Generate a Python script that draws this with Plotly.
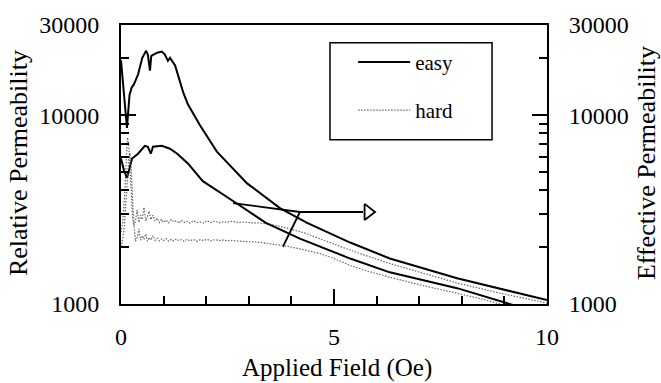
import plotly.graph_objects as go

# ---------------- data ----------------
# easy axis, upper curve (Relative Permeability)
easy_rel_x = [0, 0.07, 0.14, 0.2, 0.25, 0.3, 0.4, 0.5, 0.59, 0.63, 0.68, 0.71, 0.85, 0.96,
              1.03, 1.1, 1.15, 1.27, 1.46, 1.57, 1.85, 2.25, 2.96, 3.73, 4.37, 5.38, 6.31,
              7.89, 9.44, 10]
easy_rel_y = [19500, 12500, 8550, 12800, 14000, 14500, 16400, 20100, 21900, 20900, 17200,
              20600, 21400, 21700, 20900, 19400, 20100, 18300, 13200, 11400, 8870, 6410,
              4350, 3220, 2690, 2115, 1742, 1368, 1128, 1049]

# easy axis, lower curve (Effective Permeability)
easy_eff_x = [0, 0.07, 0.14, 0.2, 0.26, 0.4, 0.56, 0.63, 0.7, 0.75, 0.96, 1.15, 1.32, 1.57,
              1.92, 2.63, 3.4, 4.2, 5.38, 6.31, 7.89, 9.2, 10]
easy_eff_y = [5900, 5100, 4650, 5300, 5890, 6250, 6880, 6800, 6250, 6800, 6880, 6640, 6250,
              5550, 4470, 3510, 2690, 2220, 1740, 1471, 1213, 988, 900]

# hard axis, upper curve (Relative Permeability)
hard_rel_x = [0, 0.04, 0.08, 0.12, 0.15, 0.18, 0.21, 0.24, 0.27, 0.30, 0.34, 0.38, 0.42, 0.46,
              0.50, 0.54, 0.58, 0.62, 0.66, 0.70, 0.75, 0.80, 0.85, 0.90, 0.95, 1.00, 1.06,
              1.12, 1.18, 1.24, 1.30, 1.36, 1.42, 1.48, 1.55, 1.62, 1.70, 1.78, 1.86, 1.94,
              2.02, 2.10, 2.20, 2.30, 2.40, 2.50, 2.60, 2.75, 2.90, 3.05, 3.20, 3.50, 3.90,
              4.30, 4.80, 5.40, 6.30, 7.10, 7.90, 8.90, 10]
hard_rel_y = [2400, 2700, 3600, 5200, 7600, 7200, 5000, 3600, 2900, 2600, 2750, 3150, 2700,
              2950, 2800, 3250, 2750, 2900, 3100, 2800, 2950, 2750, 2850, 2700, 2800, 2700,
              2780, 2690, 2800, 2720, 2760, 2680, 2770, 2700, 2740, 2680, 2760, 2700, 2720,
              2680, 2760, 2700, 2740, 2690, 2730, 2710, 2740, 2700, 2720, 2690, 2690, 2640,
              2520, 2380, 2150, 1920, 1640, 1450, 1290, 1140, 1012]

# hard axis, lower curve (Effective Permeability)
hard_eff_x = [0, 0.04, 0.08, 0.12, 0.15, 0.18, 0.21, 0.24, 0.27, 0.30, 0.34, 0.38, 0.42, 0.46,
              0.50, 0.54, 0.58, 0.62, 0.66, 0.70, 0.75, 0.80, 0.85, 0.90, 0.95, 1.00, 1.06,
              1.12, 1.18, 1.24, 1.30, 1.36, 1.42, 1.48, 1.55, 1.62, 1.70, 1.78, 1.86, 1.94,
              2.02, 2.10, 2.20, 2.30, 2.40, 2.50, 2.60, 2.75, 2.90, 3.20, 3.50, 3.80, 4.20,
              4.67, 5.00, 5.38, 5.80, 6.31, 7.10, 7.89, 8.50, 8.97, 10]
hard_eff_y = [2000, 2200, 2600, 3400, 4500, 5800, 6300, 5200, 3800, 2700, 2150, 2250, 2500,
              2180, 2300, 2200, 2350, 2150, 2250, 2180, 2300, 2170, 2230, 2160, 2210, 2170,
              2220, 2150, 2200, 2160, 2210, 2170, 2190, 2150, 2200, 2160, 2200, 2150, 2190,
              2170, 2200, 2160, 2190, 2170, 2180, 2160, 2170, 2150, 2140, 2130, 2090, 2040,
              1960, 1850, 1740, 1600, 1490, 1385, 1250, 1142, 1060, 988, 880]

# arrow / bracket marking the curves that belong to the right axis
arrow_x = [2.63, 4.2, 5.68]
arrow_y = [3420, 3070, 3070]
bracket_x = [3.8, 4.2]
bracket_y = [2010, 3070]
head_x = [5.8]
head_y = [3070]

x_ticks = [0, 5, 10]
x_minor = [1, 2, 3, 4, 6, 7, 8, 9]
y_ticks = [1000, 10000, 30000]
y_ticktext = ["1000", "10000", "30000"]
y_minor = [2000, 3000, 4000, 5000, 6000, 7000, 8000, 9000, 20000]

FONT = "Liberation Serif, Times New Roman, serif"
BLACK = "#000000"
GRAY = "#666666"
DOTS = "1.5px,1.5px"

fig = go.Figure()

fig.add_trace(go.Scatter(x=easy_rel_x, y=easy_rel_y, mode="lines", name="easy",
                         line=dict(color=BLACK, width=2), legendgroup="a"))
fig.add_trace(go.Scatter(x=hard_rel_x, y=hard_rel_y, mode="lines", name="hard",
                         line=dict(color=GRAY, width=1.2, dash=DOTS), legendgroup="b"))
fig.add_trace(go.Scatter(x=easy_eff_x, y=easy_eff_y, mode="lines", name="easy",
                         line=dict(color=BLACK, width=2), yaxis="y2", showlegend=False))
fig.add_trace(go.Scatter(x=hard_eff_x, y=hard_eff_y, mode="lines", name="hard",
                         line=dict(color=GRAY, width=1.2, dash=DOTS), yaxis="y2",
                         showlegend=False))
fig.add_trace(go.Scatter(x=arrow_x, y=arrow_y, mode="lines", showlegend=False,
                         line=dict(color=BLACK, width=1.8), hoverinfo="skip"))
fig.add_trace(go.Scatter(x=bracket_x, y=bracket_y, mode="lines", showlegend=False,
                         line=dict(color=BLACK, width=1.8), hoverinfo="skip"))
fig.add_trace(go.Scatter(x=head_x, y=head_y, mode="markers", showlegend=False,
                         marker=dict(symbol="triangle-right-open", size=14,
                                     color=BLACK, line=dict(width=1.8, color=BLACK)),
                         hoverinfo="skip"))

yax = dict(type="log", range=[3, 4.4771], tickvals=y_ticks, ticktext=y_ticktext,
           ticks="inside", ticklen=15, tickwidth=1.5, tickcolor=BLACK,
           minor=dict(tickvals=y_minor, ticks="inside", ticklen=8, tickwidth=1.5,
                      tickcolor=BLACK, showgrid=False),
           showgrid=False, zeroline=False, showline=True, linecolor=BLACK, linewidth=2,
           tickfont=dict(family=FONT, size=24, color=BLACK), ticklabelstandoff=15)

fig.update_layout(
    width=661, height=383,
    margin=dict(l=121, r=114, t=22, b=79),
    paper_bgcolor="white", plot_bgcolor="white",
    showlegend=True,
    xaxis=dict(range=[0, 10], tickvals=x_ticks, ticks="inside", ticklen=15, tickwidth=1.5,
               tickcolor=BLACK,
               minor=dict(tickvals=x_minor, ticks="inside", ticklen=8, tickwidth=1.5,
                          tickcolor=BLACK, showgrid=False),
               showgrid=False, zeroline=False, showline=True, linecolor=BLACK, linewidth=2,
               mirror=True, tickfont=dict(family=FONT, size=24, color=BLACK),
               ticklabelstandoff=10),
    yaxis=yax,
    yaxis2=dict(yax, overlaying="y", side="right"),
    legend=dict(x=0.545, y=0.94, xanchor="left", yanchor="top", bgcolor="rgba(0,0,0,0)",
                borderwidth=0, font=dict(family=FONT, size=21, color=BLACK),
                tracegroupgap=18, itemwidth=52),
    shapes=[dict(type="rect", xref="paper", yref="paper", x0=0.4906, x1=0.871,
                 y0=0.5887, y1=0.936, line=dict(color=BLACK, width=1.5))],
    annotations=[
        dict(text="Relative Permeability", xref="paper", yref="paper", x=0, y=0.505,
             xshift=-103, textangle=-90, showarrow=False, xanchor="center",
             yanchor="middle", font=dict(family=FONT, size=26, color=BLACK)),
        dict(text="Effective Permeability", xref="paper", yref="paper", x=1, y=0.505,
             xshift=99, textangle=-90, showarrow=False, xanchor="center",
             yanchor="middle", font=dict(family=FONT, size=26, color=BLACK)),
        dict(text="Applied Field (Oe)", xref="paper", yref="paper", x=0.507, y=0,
             yshift=-64, showarrow=False, xanchor="center", yanchor="middle",
             font=dict(family=FONT, size=25, color=BLACK)),
    ],
)

# remove the browser's default 8px page margin so the figure fills the window exactly
fig.write_html("out.html", config={"displayModeBar": False},
               post_script="document.body.style.margin='0px';")
